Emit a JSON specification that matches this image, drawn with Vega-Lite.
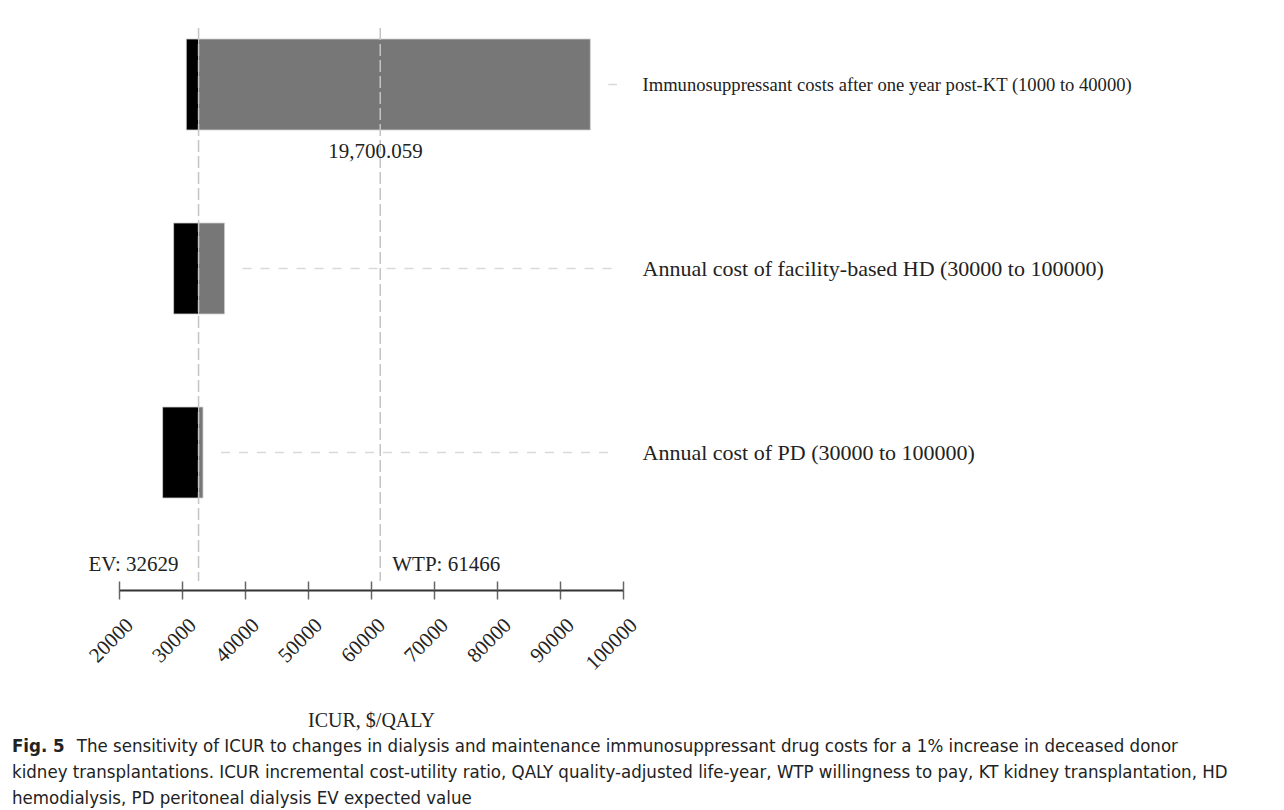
{
  "$schema": "https://vega.github.io/schema/vega-lite/v6.json",
  "width": 504,
  "height": 553,
  "autosize": {"type": "none"},
  "padding": {"left": 119, "top": 28, "right": 661, "bottom": 229},
  "background": "white",
  "config": {"view": {"stroke": null}, "font": "Liberation Serif"},
  "datasets": {
    "bars": [
      {"param": "Immunosuppressant costs after one year post-KT (1000 to 40000)", "segment": "low", "start": 30683, "end": 32629},
      {"param": "Immunosuppressant costs after one year post-KT (1000 to 40000)", "segment": "high", "start": 32629, "end": 94810},
      {"param": "Annual cost of facility-based HD (30000 to 100000)", "segment": "low", "start": 28667, "end": 32629},
      {"param": "Annual cost of facility-based HD (30000 to 100000)", "segment": "high", "start": 32629, "end": 36762},
      {"param": "Annual cost of PD (30000 to 100000)", "segment": "low", "start": 26921, "end": 32629},
      {"param": "Annual cost of PD (30000 to 100000)", "segment": "high", "start": 32629, "end": 33333}
    ],
    "refs": [
      {"label": "EV: 32629", "value": 32629, "side": "left"},
      {"label": "WTP: 61466", "value": 61466, "side": "right"}
    ],
    "notes": [
      {"param": "Immunosuppressant costs after one year post-KT (1000 to 40000)", "value": 60700, "label": "19,700.059"}
    ]
  },
  "title": {
    "text": "Fig. 5",
    "subtitle": [
      "\u200b\u00a0\u00a0\u00a0\u00a0\u00a0\u00a0\u00a0\u00a0\u00a0\u00a0\u00a0\u2009\u2009The sensitivity of ICUR to changes in dialysis and maintenance immunosuppressant drug costs for a 1% increase in deceased donor",
      "kidney transplantations. ICUR incremental cost-utility ratio, QALY quality-adjusted life-year, WTP willingness to pay, KT kidney transplantation, HD",
      "hemodialysis, PD peritoneal dialysis EV expected value"
    ],
    "orient": "bottom",
    "anchor": "start",
    "frame": "group",
    "dx": -107,
    "offset": 7,
    "font": "DejaVu Sans Condensed, Lato, sans-serif",
    "fontSize": 18.5,
    "fontWeight": "bold",
    "color": "#222222",
    "subtitleFont": "DejaVu Sans Condensed, Lato, sans-serif",
    "subtitleFontSize": 18.5,
    "subtitleColor": "#222222",
    "subtitleLineHeight": 26,
    "subtitlePadding": -18.5
  },
  "resolve": {"axis": {"x": "independent"}},
  "layer": [
    {
      "data": {"name": "bars"},
      "mark": {"type": "bar", "stroke": "#d0d0d0", "strokeWidth": 0.8},
      "encoding": {
        "y": {
          "field": "param", "type": "nominal", "sort": null,
          "scale": {"paddingInner": 0.5054, "paddingOuter": 0.2554, "align": 0.117},
          "axis": {"orient": "right", "title": null, "domain": false, "ticks": false, "labelPadding": 19, "labelFont": "Liberation Serif",
            "labelFontSize": {"condition": {"test": "indexof(datum.label, 'Immuno') === 0", "value": 18.6}, "value": 22},
            "labelColor": "#222222", "labelLimit": 700}
        },
        "x": {
          "field": "start", "type": "quantitative",
          "scale": {"domain": [20000, 100000], "nice": false, "zero": false},
          "axis": {
            "orient": "bottom", "offset": 9, "tickSize": 9, "tickColor": "#666666", "tickWidth": 1.5,
            "domainColor": "#333333", "domainWidth": 2, "grid": false,
            "values": [20000, 30000, 40000, 50000, 60000, 70000, 80000, 90000, 100000],
            "format": "d", "labelAngle": -45, "labelFont": "Liberation Serif", "labelFontSize": 21, "labelColor": "#222222", "labelPadding": 15, "labelOffset": 3,
            "title": "ICUR, $/QALY", "titleFont": "Liberation Serif", "titleFontSize": 20, "titleFontWeight": "normal", "titleColor": "#222222", "titlePadding": 37
          }
        },
        "x2": {"field": "end"},
        "color": {"field": "segment", "type": "nominal", "scale": {"domain": ["low", "high"], "range": ["#000000", "#777777"]}, "legend": null}
      }
    },
    {
      "data": {"name": "bars"},
      "transform": [{"filter": "datum.segment === 'high'"}],
      "mark": {"type": "rule", "color": "#d9d9d9", "strokeWidth": 1.5, "strokeDash": [9, 9], "xOffset": 18, "x2Offset": -6},
      "encoding": {
        "y": {"field": "param", "type": "nominal", "sort": null},
        "x": {"field": "end", "type": "quantitative", "axis": null},
        "x2": {"datum": 100000}
      }
    },
    {
      "data": {"name": "refs"},
      "mark": {"type": "rule", "color": "#c4c4c4", "strokeWidth": 1.5, "strokeDash": [12, 4]},
      "encoding": {
        "x": {
          "field": "value", "type": "quantitative",
          "axis": {"orient": "bottom", "offset": 9, "tickSize": -9, "tickColor": "#666666", "tickWidth": 1.5, "labels": false, "domain": false, "grid": false, "title": null,
            "values": [20000, 30000, 40000, 50000, 60000, 70000, 80000, 90000, 100000]}
        }
      }
    },
    {
      "data": {"name": "refs"},
      "transform": [{"filter": "datum.side === 'left'"}],
      "mark": {"type": "text", "align": "right", "baseline": "alphabetic", "dx": -20, "dy": -10, "font": "Liberation Serif", "fontSize": 21, "color": "#222222"},
      "encoding": {
        "x": {"field": "value", "type": "quantitative", "axis": null},
        "y": {"value": {"expr": "height"}},
        "text": {"field": "label"}
      }
    },
    {
      "data": {"name": "refs"},
      "transform": [{"filter": "datum.side === 'right'"}],
      "mark": {"type": "text", "align": "left", "baseline": "alphabetic", "dx": 12, "dy": -10, "font": "Liberation Serif", "fontSize": 21, "color": "#222222"},
      "encoding": {
        "x": {"field": "value", "type": "quantitative", "axis": null},
        "y": {"value": {"expr": "height"}},
        "text": {"field": "label"}
      }
    },
    {
      "data": {"name": "notes"},
      "mark": {"type": "text", "align": "center", "baseline": "alphabetic", "dy": 73, "font": "Liberation Serif", "fontSize": 21, "color": "#222222"},
      "encoding": {
        "x": {"field": "value", "type": "quantitative", "axis": null},
        "y": {"field": "param", "type": "nominal", "sort": null},
        "text": {"field": "label"}
      }
    }
  ]
}
